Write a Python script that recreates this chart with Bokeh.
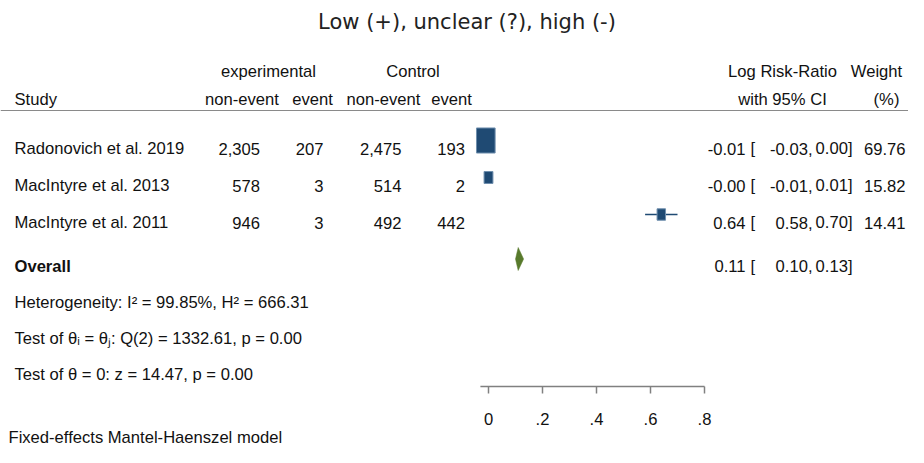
from bokeh.plotting import figure
from bokeh.models import Range1d
from bokeh.core.properties import value
from bokeh.embed import file_html
from bokeh.resources import INLINE

# ---------------- data ----------------
studies = ["Radonovich et al. 2019", "MacIntyre et al. 2013", "MacIntyre et al. 2011"]
exp_nonevent = [2305, 578, 946]
exp_event = [207, 3, 3]
ctl_nonevent = [2475, 514, 492]
ctl_event = [193, 2, 442]
est = [-0.01, -0.00, 0.64]
lower = [-0.03, -0.01, 0.58]
upper = [0.00, 0.01, 0.70]
weight = [69.76, 15.82, 14.41]
overall_est = 0.11
overall_lower = 0.10
overall_upper = 0.13
tick_values = [0, 0.2, 0.4, 0.6, 0.8]
tick_labels = ["0", ".2", ".4", ".6", ".8"]
title_text = "Low (+), unclear (?), high (-)"
het_lines = [
    "Heterogeneity: I\u00b2 = 99.85%, H\u00b2 = 666.31",
    "Test of \u03b8\u1d62 = \u03b8\u2c7c: Q(2) = 1332.61, p = 0.00",
    "Test of \u03b8 = 0: z = 14.47, p = 0.00",
]
footer_text = "Fixed-effects Mantel-Haenszel model"

# ---------------- layout ----------------
# vertical positions below are given in reference-picture pixels; the
# y range is offset so that they land 8px higher on the canvas.
FONT = "Liberation Sans"
TFONT = "DejaVu Sans"
FS = "16.6px"
ZERO_PX = 488.0
PX_PER_UNIT = 270.0
W, H = 908, 447
Y_OFF = 8.0
AXIS_Y = 394.0


def px2x(px):
    return (px - ZERO_PX) / PX_PER_UNIT


p = figure(width=W, height=H, output_backend="svg", toolbar_location=None,
           x_range=Range1d(px2x(0), px2x(W)),
           y_range=Range1d(H + Y_OFF, Y_OFF),
           x_axis_type=None, y_axis_type=None, min_border=0,
           outline_line_color=None, background_fill_color="white",
           border_fill_color="white")

row_centers = [148.0 + 37.0 * i for i in range(len(studies))]
row_base = [c + 8.0 for c in row_centers]
ov_center = 266.5
ov_base = ov_center + 7.0


def txt(xs, ys, texts, align, size=FS, font=FONT, style="normal", color="#111111"):
    p.text(x=xs, y=ys, text=texts, text_align=align,
           text_baseline="alphabetic", text_font=value(font), text_font_size=size,
           text_font_style=style, text_color=color)


def col(xpx, ys, texts, align, **kw):
    txt([px2x(xpx)] * len(texts), ys, texts, align, **kw)


# title
col(466.5, [29.5], [title_text], "center", size="21px", font=TFONT, color="#222222")

# headers
col(268, [78.5], ["experimental"], "center")
col(412.5, [78.5], ["Control"], "center")
col(14, [106.5], ["Study"], "left")
col(241.5, [106.5], ["non-event"], "center")
col(312, [106.5], ["event"], "center")
col(383, [106.5], ["non-event"], "center")
col(451, [106.5], ["event"], "center")
col(782, [78.5], ["Log Risk-Ratio"], "center")
col(782, [106.5], ["with 95% CI"], "center")
col(876, [78.5], ["Weight"], "center")
col(886, [106.5], ["(%)"], "center")

# header rule
p.segment(x0=[px2x(0)], x1=[px2x(W)], y0=[118], y1=[118],
          line_color="#8a8a8a", line_width=1)

# study rows
col(14, row_base, studies, "left")
col(259.5, row_base, [f"{v:,}" for v in exp_nonevent], "right")
col(323, row_base, [f"{v:,}" for v in exp_event], "right")
col(401, row_base, [f"{v:,}" for v in ctl_nonevent], "right")
col(464.5, row_base, [f"{v:,}" for v in ctl_event], "right")

col(745, row_base, [f"{v:.2f}" for v in est], "right")
col(750, row_base, ["["] * len(est), "left")
col(812, row_base, [f"{v:.2f}," for v in lower], "right")
col(852, row_base, [f"{v:.2f}]" for v in upper], "right")
col(905, row_base, [f"{v:.2f}" for v in weight], "right")

# overall row
col(14, [ov_base], ["Overall"], "left", style="bold")
col(745, [ov_base], [f"{overall_est:.2f}"], "right")
col(750, [ov_base], ["["], "left")
col(812, [ov_base], [f"{overall_lower:.2f},"], "right")
col(852, [ov_base], [f"{overall_upper:.2f}]"], "right")

# heterogeneity
col(14, [310, 345.5, 381.5], het_lines, "left")

# CI lines and weight boxes
BLUE = "#1f4a73"
p.segment(x0=lower, x1=upper, y0=row_centers, y1=row_centers,
          line_color=BLUE, line_width=1.6)
box_w = [2.23 * w ** 0.5 for w in weight]
box_h = [3.0 * w ** 0.5 for w in weight]
p.rect(x=est, y=row_centers, width=box_w, height=box_h,
       width_units="screen", height_units="screen",
       fill_color=BLUE, line_color="#6f8fae", line_width=1)

# overall diamond
DH = 23.0
p.patch(x=[overall_lower, overall_est, overall_upper, overall_est],
        y=[ov_center, ov_center - DH / 2, ov_center, ov_center + DH / 2],
        fill_color="#587a2c", line_color="#587a2c", line_width=0.5)

# x axis (line, ticks and labels on the data scale)
AX_COL = "#808080"
TICK_LEN = 7.0
p.segment(x0=[min(lower)], x1=[tick_values[-1]], y0=[AXIS_Y], y1=[AXIS_Y],
          line_color=AX_COL, line_width=1.5)
p.segment(x0=tick_values, x1=tick_values, y0=[AXIS_Y] * len(tick_values),
          y1=[AXIS_Y + TICK_LEN] * len(tick_values), line_color=AX_COL, line_width=1.5)
txt(tick_values, [426.5] * len(tick_values), tick_labels, "center")

# footer
col(8, [445], [footer_text], "left")

open("out.html", "w").write(file_html(p, INLINE))
